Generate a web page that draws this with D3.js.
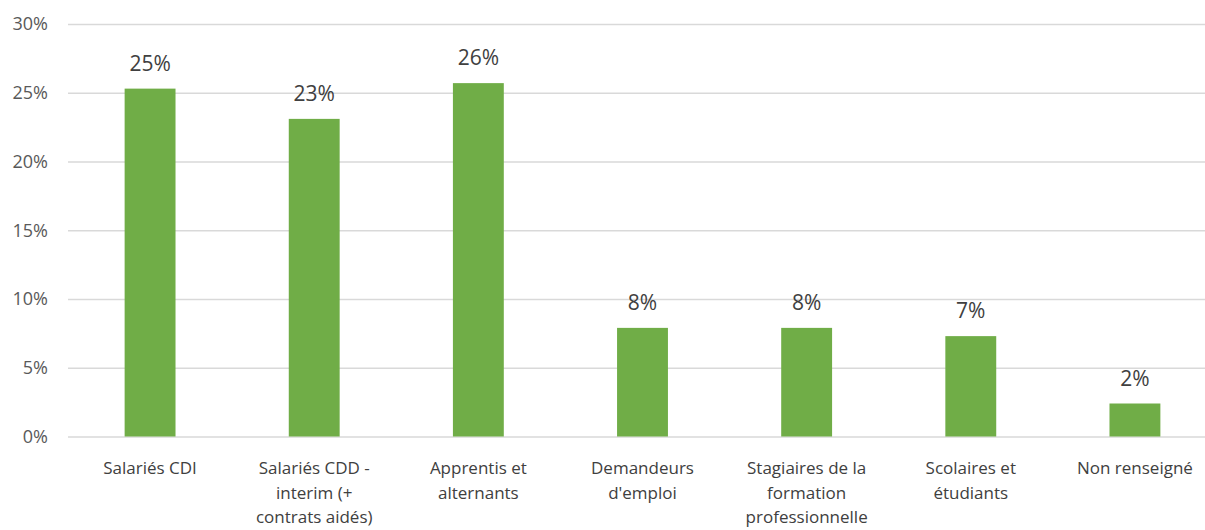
<!DOCTYPE html>
<html>
<head>
<meta charset="utf-8">
<script src="https://cdn.jsdelivr.net/npm/d3@7"></script>
<style>
  body { margin: 0; background: #fff; }
  svg text { font-family: "Open Sans", sans-serif; }
</style>
</head>
<body>
<div class="chart"></div>
<script>
// categories, split into label lines
var categories = [
  ['Salariés CDI'],
  ['Salariés CDD -', 'interim (+', 'contrats aidés)'],
  ['Apprentis et', 'alternants'],
  ['Demandeurs', "d'emploi"],
  ['Stagiaires de la', 'formation', 'professionnelle'],
  ['Scolaires et', 'étudiants'],
  ['Non renseigné']
]
var values = [25.3, 23.1, 25.7, 7.9, 7.9, 7.3, 2.4]
var valueLabels = ['25%', '23%', '26%', '8%', '8%', '7%', '2%']
var yTicks = [0, 5, 10, 15, 20, 25, 30]

var green = '#70ad47'
let margin = {top: 24, right: -12, bottom: 94, left: 68},
width = 1205
height = 530

let x = d3.scaleBand()
    .domain(d3.range(categories.length))
    .range([margin.left, width - margin.right])
    .paddingInner(0.69)
    .paddingOuter(0.345)

let y = d3.scaleLinear()
    .domain([0, 30])
    .range([height - margin.bottom + 0.5, margin.top])

var svg = d3.select('.chart').append('svg')
    .attr('width', width)
    .attr('height', height)

// gridlines + y labels
let yAxis = g => g
    .attr('transform', 'translate(' + margin.left + ',0)')
    .call(d3.axisLeft(y).tickValues(yTicks).tickFormat(d => d + '%')
        .tickSize(-(width - margin.left - margin.right)).tickPadding(20))

svg.append('g')
    .call(yAxis)
    .call(g => g.select('.domain').remove())
    .call(g => g.selectAll('.tick line')
        .attr('stroke', '#d9d9d9')
        .attr('stroke-width', 1.5))
    .call(g => g.selectAll('text')
        .attr('fill', '#595959')
        .style('font-size', '18px'))

// bars
svg.selectAll('.bar')
    .data(values)
    .enter()
    .append('rect')
    .attr('class', 'bar')
    .attr('x', (d, i) => x(i))
    .attr('width', x.bandwidth())
    .attr('y', d => y(d))
    .attr('height', d => y(0) - y(d))
    .attr('fill', green)

// value labels
svg.selectAll('.vlabel')
    .data(values)
    .enter()
    .append('text')
    .attr('class', 'vlabel')
    .attr('x', (d, i) => x(i) + x.bandwidth() / 2)
    .attr('y', d => y(d) - 18)
    .attr('text-anchor', 'middle')
    .attr('fill', '#404040')
    .style('font-size', '21px')
    .text((d, i) => valueLabels[i])

// category labels
var cats = svg.selectAll('.cat')
    .data(categories)
    .enter()
    .append('text')
    .attr('class', 'cat')
    .attr('text-anchor', 'middle')
    .attr('fill', '#404040')
    .style('font-size', '17px')

cats.selectAll('tspan')
    .data((d, i) => d.map(t => ({t: t, i: i})))
    .enter()
    .append('tspan')
    .attr('x', d => x(d.i) + x.bandwidth() / 2)
    .attr('y', (d, j) => 474 + j * 24.5)
    .text(d => d.t)
</script>
</body>
</html>
